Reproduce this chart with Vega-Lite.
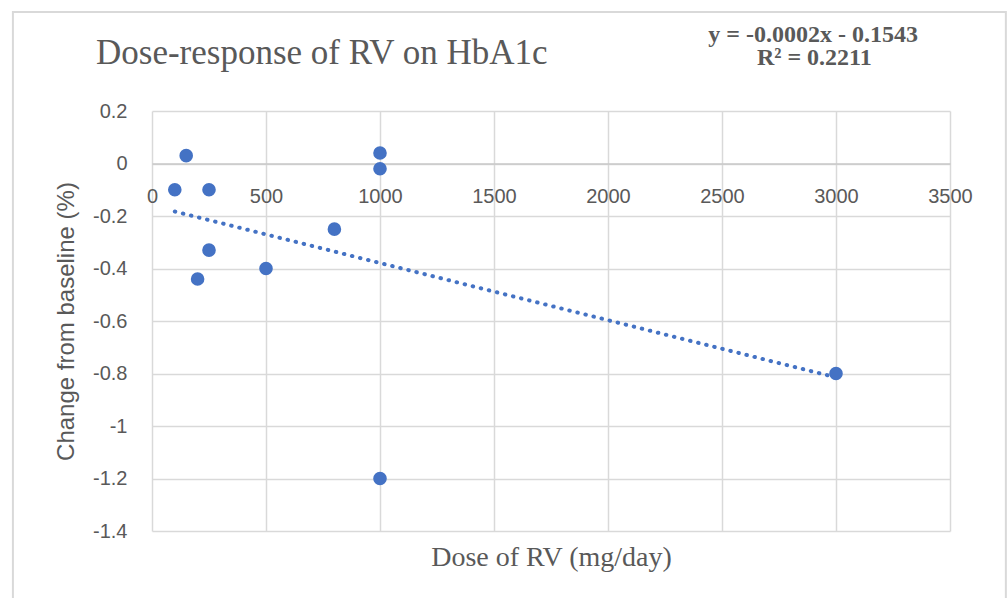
{
  "$schema": "https://vega.github.io/schema/vega-lite/v6.json",
  "width": 798,
  "height": 420,
  "autosize": {"type": "none"},
  "padding": {"left": 152, "top": 111, "right": 58, "bottom": 67},
  "background": "white",
  "config": {"view": {"stroke": null}},
  "title": {
    "text": "Dose-response of RV on HbA1c",
    "anchor": "start",
    "frame": "group",
    "font": "Liberation Serif",
    "fontSize": 35,
    "fontWeight": "normal",
    "color": "#595959",
    "dx": -56,
    "offset": -88,
    "baseline": "alphabetic"
  },
  "layer": [
    {
      "data": {"values": [{"frame": "chart"}]},
      "mark": {"type": "rect", "fillOpacity": 0, "stroke": "#d9d9d9", "strokeWidth": 2},
      "encoding": {
        "x": {"datum": -610, "type": "quantitative"},
        "x2": {"datum": 3745},
        "y": {"datum": 0.577, "type": "quantitative"},
        "y2": {"datum": -1.75}
      }
    },
    {
      "data": {"name": "pts"},
      "transform": [{"regression": "change", "on": "dose", "method": "linear"}],
      "mark": {"type": "line", "color": "#4472C4", "strokeWidth": 4, "strokeCap": "round", "strokeDash": [0.5, 7.8]},
      "encoding": {
        "x": {"field": "dose", "type": "quantitative"},
        "y": {"field": "change", "type": "quantitative"}
      }
    },
    {
      "data": {"name": "pts"},
      "mark": {"type": "circle", "size": 185, "color": "#4472C4", "opacity": 1},
      "encoding": {
        "x": {
          "field": "dose",
          "type": "quantitative",
          "scale": {"domain": [0, 3500], "nice": false, "zero": false},
          "axis": {
            "title": "Dose of RV (mg/day)",
            "orient": "bottom",
            "offset": -367.5,
            "values": [0, 500, 1000, 1500, 2000, 2500, 3000, 3500],
            "labelExpr": "'' + datum.value",
            "grid": true,
            "gridColor": "#d9d9d9",
            "gridWidth": 1.5,
            "domain": true,
            "domainColor": "#c8c8c8",
            "domainWidth": 1.5,
            "ticks": false,
            "tickSize": 0,
            "labelPadding": 33,
            "labelBaseline": "middle",
            "labelFont": "Liberation Sans",
            "labelFontSize": 20,
            "labelColor": "#595959",
            "labelFlush": false,
            "labelOverlap": false,
            "labelBound": false,
            "titleFont": "Liberation Serif",
            "titleFontSize": 28,
            "titleFontWeight": "normal",
            "titleColor": "#595959",
            "titleX": 399,
            "titleY": 401.5,
            "titleBaseline": "alphabetic",
            "titleAlign": "center"
          }
        },
        "y": {
          "field": "change",
          "type": "quantitative",
          "scale": {"domain": [-1.4, 0.2], "nice": false, "zero": false},
          "axis": {
            "title": "Change from baseline (%)",
            "values": [-1.4, -1.2, -1, -0.8, -0.6, -0.4, -0.2, 0, 0.2],
            "labelExpr": "'' + datum.value",
            "grid": true,
            "gridColor": "#d9d9d9",
            "gridWidth": 1.5,
            "domain": false,
            "ticks": false,
            "tickSize": 0,
            "labelPadding": 25,
            "labelFont": "Liberation Sans",
            "labelFontSize": 20,
            "labelColor": "#595959",
            "labelFlush": false,
            "labelOverlap": false,
            "titleFont": "Liberation Sans",
            "titleFontSize": 24,
            "titleFontWeight": "normal",
            "titleColor": "#595959",
            "titleAngle": -90,
            "titleX": -86,
            "titleY": 210,
            "titleBaseline": "middle",
            "titleAlign": "center"
          }
        }
      }
    },
    {
      "data": {"values": [{"label": "equation"}]},
      "mark": {
        "type": "text",
        "text": "y = -0.0002x - 0.1543",
        "font": "Liberation Serif",
        "fontSize": 24,
        "fontWeight": "bold",
        "fill": "#595959",
        "align": "center",
        "baseline": "alphabetic"
      },
      "encoding": {
        "x": {"datum": 2900, "type": "quantitative"},
        "y": {"datum": 0.462, "type": "quantitative"}
      }
    },
    {
      "data": {"values": [{"label": "r2"}]},
      "mark": {
        "type": "text",
        "text": "R² = 0.2211",
        "font": "Liberation Serif",
        "fontSize": 24,
        "fontWeight": "bold",
        "fill": "#595959",
        "align": "center",
        "baseline": "alphabetic"
      },
      "encoding": {
        "x": {"datum": 2905, "type": "quantitative"},
        "y": {"datum": 0.376, "type": "quantitative"}
      }
    }
  ],
  "datasets": {
    "pts": [
      {"dose": 100, "change": -0.1},
      {"dose": 150, "change": 0.03},
      {"dose": 250, "change": -0.1},
      {"dose": 250, "change": -0.33},
      {"dose": 200, "change": -0.44},
      {"dose": 500, "change": -0.4},
      {"dose": 800, "change": -0.25},
      {"dose": 1000, "change": 0.04},
      {"dose": 1000, "change": -0.02},
      {"dose": 1000, "change": -1.2},
      {"dose": 3000, "change": -0.8}
    ]
  }
}
